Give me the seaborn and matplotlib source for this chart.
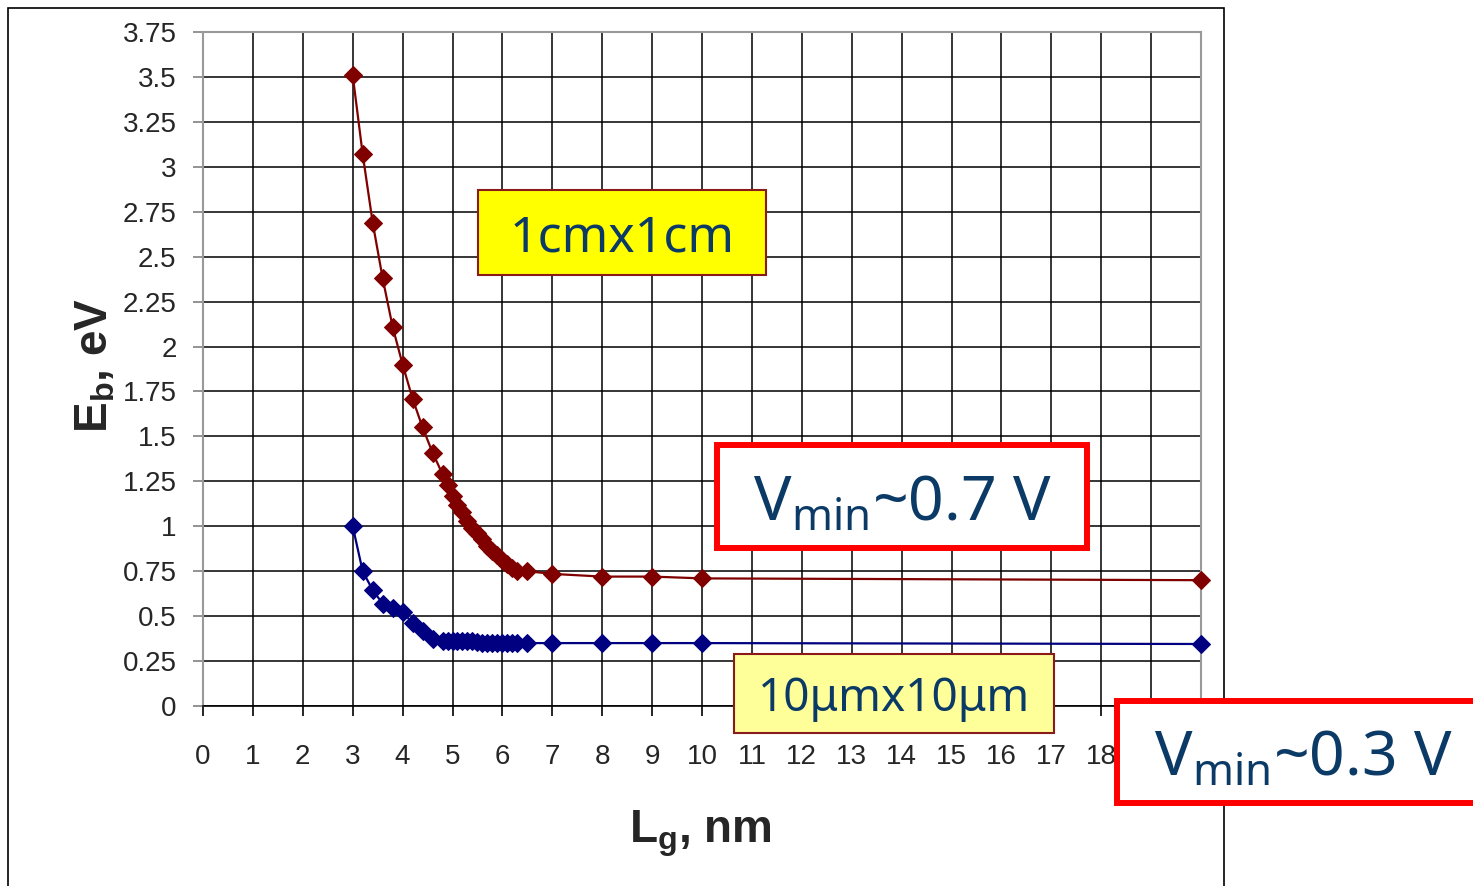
import matplotlib
matplotlib.use('Agg')
import matplotlib.pyplot as plt
import seaborn as sns
from matplotlib.patches import Rectangle

# Values
lg_nm = [3.0, 3.2, 3.4, 3.6, 3.8, 4.0, 4.2, 4.4, 4.6,
         4.8, 4.9, 5.0, 5.1, 5.2, 5.3, 5.4, 5.5, 5.6, 5.7, 5.8, 5.9,
         6.0, 6.1, 6.2, 6.3, 6.5, 7, 8, 9, 10, 20]
eb_1cm = [3.51, 3.07, 2.69, 2.38, 2.11, 1.90, 1.71, 1.55, 1.41,
          1.29, 1.23, 1.17, 1.12, 1.08, 1.03, 0.99, 0.96, 0.93, 0.89, 0.86, 0.84,
          0.81, 0.79, 0.77, 0.75, 0.75, 0.735, 0.72, 0.72, 0.71, 0.70]
eb_10um = [1.00, 0.75, 0.645, 0.57, 0.545, 0.525, 0.46, 0.42, 0.37,
           0.36, 0.36, 0.36, 0.36, 0.36, 0.36, 0.36, 0.355, 0.35, 0.35, 0.35, 0.35,
           0.35, 0.35, 0.35, 0.35, 0.35, 0.35, 0.35, 0.35, 0.35, 0.345]
x_ticks = list(range(0, 21))
# 19 and 20 sit behind the "Vmin~0.3 V" box in the original
x_tick_labels = [str(t) for t in range(0, 19)] + ['', '']
y_ticks = [0, 0.25, 0.5, 0.75, 1, 1.25, 1.5, 1.75, 2, 2.25, 2.5, 2.75, 3, 3.25, 3.5, 3.75]
y_tick_labels = ['0', '0.25', '0.5', '0.75', '1', '1.25', '1.5', '1.75', '2',
                 '2.25', '2.5', '2.75', '3', '3.25', '3.5', '3.75']

sns.set_style("white")
plt.rcParams['font.family'] = ['Liberation Sans', 'DejaVu Sans']
plt.rcParams['mathtext.fontset'] = 'custom'
plt.rcParams['mathtext.rm'] = 'Noto Sans'
plt.rcParams['mathtext.bf'] = 'Liberation Sans:bold'

W, H = 1473, 886
fig = plt.figure(figsize=(W / 100, H / 100), dpi=100)
ax = fig.add_axes([203 / W, 1 - 706 / H, (1201 - 203) / W, (706 - 32) / H])

red = '#800000'
blue = '#000080'
sns.lineplot(x=lg_nm, y=eb_1cm, ax=ax, color=red, linewidth=1.6, marker='D',
             markersize=9.5, markeredgecolor=red, estimator=None, sort=False,
             clip_on=False, zorder=4)
sns.lineplot(x=lg_nm, y=eb_10um, ax=ax, color=blue, linewidth=1.6, marker='D',
             markersize=9.5, markeredgecolor=blue, estimator=None, sort=False,
             clip_on=False, zorder=4)

ax.set_xlim(0, 20)
ax.set_ylim(0, 3.75)
ax.set_xticks(x_ticks)
ax.set_xticklabels(x_tick_labels)
ax.set_yticks(y_ticks)
ax.set_yticklabels(y_tick_labels)
ax.grid(True, color='black', linewidth=1.1)
ax.set_axisbelow(True)

ax.tick_params(axis='y', direction='out', length=7, width=1.2, color='#808080',
               labelsize=20, pad=12, left=True)
ax.tick_params(axis='x', direction='out', length=7, width=1.2, color='black',
               labelsize=20, pad=20, bottom=True)

for side in ['left', 'top', 'right']:
    ax.spines[side].set_color('#999999')
    ax.spines[side].set_linewidth(1.5)
ax.spines['bottom'].set_color('black')
ax.spines['bottom'].set_linewidth(1.2)

ax.set_xlabel(r'$\mathbf{L_g}$, nm', fontsize=33, fontweight='bold')
ax.xaxis.set_label_coords(0.498, -0.19)
ax.xaxis.label.set_va('center')
ax.set_ylabel(r'$\mathbf{E_b}$, eV', fontsize=33, fontweight='bold')
ax.yaxis.set_label_coords(-0.108, 0.506)
ax.yaxis.label.set_va('center')

# outer slide frame
fig.add_artist(Rectangle((8 / W, -0.05), (1224 - 8) / W, 1.05 - 8 / H,
                         transform=fig.transFigure, fill=False,
                         edgecolor='black', linewidth=1.2, zorder=1))

navy_text = '#0B3A66'


def box(x0, y0, x1, y1, face, edge, lw, text, size, dy=0):
    fig.add_artist(Rectangle((x0 / W, 1 - y1 / H), (x1 - x0) / W, (y1 - y0) / H,
                             transform=fig.transFigure, facecolor=face,
                             edgecolor=edge, linewidth=lw, zorder=10))
    fig.text((x0 + x1) / 2 / W, 1 - ((y0 + y1) / 2 + dy) / H, text, fontsize=size,
             color=navy_text, family=['Noto Sans', 'DejaVu Sans'],
             ha='center', va='center', zorder=11)


box(478, 190, 766, 275, '#FFFF00', '#8B1A1A', 1.5, '1cmx1cm', 36, dy=6)
box(717, 445, 1087, 548, 'white', '#FF0000', 4.3, r'V$_{\mathrm{min}}$~0.7 V', 45, dy=8)
box(734, 654, 1054, 733, '#FFFF99', '#8B1A1A', 1.5, '10\u03bcmx10\u03bcm', 33, dy=6)
box(1117, 701, 1490, 803, 'white', '#FF0000', 4.3, r'V$_{\mathrm{min}}$~0.3 V', 45, dy=8)

plt.savefig('out.png', dpi=100)
